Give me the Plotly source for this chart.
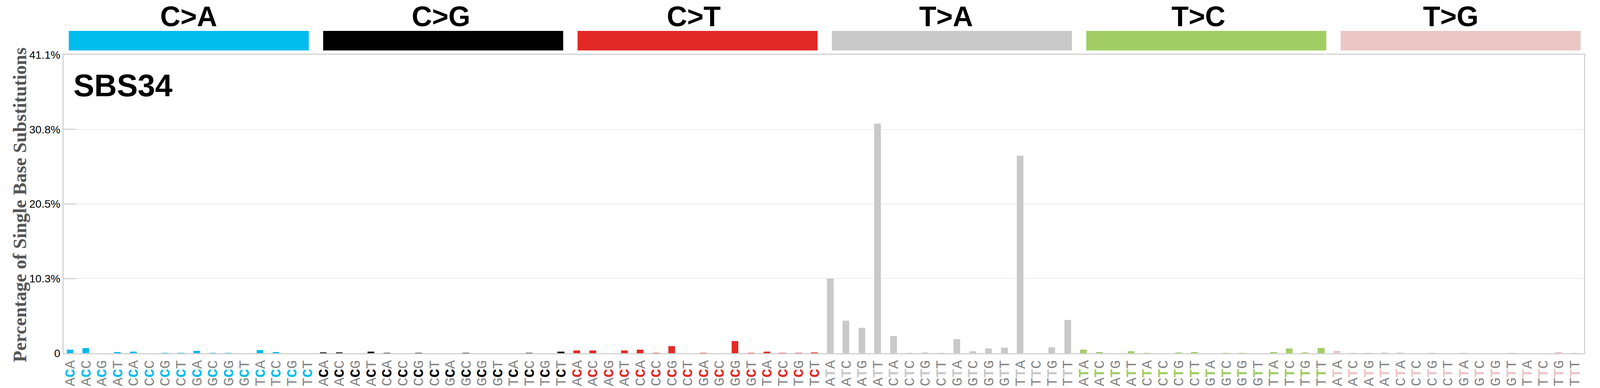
import plotly.graph_objects as go

# SBS34 - 96 channel profile (percent of single base substitutions)
mutations = ["C>A", "C>G", "C>T", "T>A", "T>C", "T>G"]
colors = ["#03BCEE", "#010101", "#E32926", "#CAC9C9", "#A1CE63", "#EBC6C4"]
bases = ["A", "C", "G", "T"]

ca = [0.47, 0.68, 0, 0.14, 0.20, 0, 0.04, 0.04, 0.30, 0.05, 0.05, 0, 0.41, 0.14, 0, 0]
cg = [0.09, 0.09, 0, 0.20, 0.04, 0, 0.04, 0, 0, 0.04, 0, 0, 0, 0.04, 0, 0.20]
ct = [0.36, 0.36, 0, 0.36, 0.47, 0.05, 0.95, 0, 0.05, 0, 1.65, 0.05, 0.20, 0.05, 0.05, 0.11]
ta = [10.3, 4.45, 3.49, 31.6, 2.35, 0.04, 0.11, 0.04, 1.93, 0.26, 0.64, 0.75, 27.2, 0, 0.79, 4.6]
tc = [0.47, 0.14, 0, 0.25, 0.04, 0, 0.09, 0.14, 0, 0.04, 0.04, 0, 0.14, 0.63, 0.09, 0.68]
tg = [0.30, 0.04, 0.04, 0.09, 0.09, 0, 0.04, 0, 0.04, 0, 0, 0.04, 0, 0, 0.14, 0.04]
values = [ca, cg, ct, ta, tc, tg]

ymax = 41.1
ytick_vals = [0, 10.275, 20.55, 30.825, 41.1]
ytick_text = ["0", "10.3%", "20.5%", "30.8%", "41.1%"]
signature = "SBS34"

# layout worked out on a 4393 x 992 canvas, the browser shows 4096 px wide
W0, H = 4393, 992
W = 4096
sx = W / W0
L0, R0, T, B = 175, 44, 140, 89
pw = W0 - L0 - R0
ph = H - T - B

x, y, bar_colors, labels = [], [], [], []
for m, (mut, col) in enumerate(zip(mutations, colors)):
    ref = mut[0]
    k = 0
    for b5 in bases:
        for b3 in bases:
            x.append(m * 16 + k)
            y.append(values[m][k])
            bar_colors.append(col)
            labels.append(f"{b5}<span style='color:{col}'><b>{ref}</b></span>{b3}")
            k += 1

fig = go.Figure(go.Bar(x=x, y=y, marker=dict(color=bar_colors, line=dict(width=0)),
                       width=0.42, showlegend=False))

shapes, annotations = [], []
for m, (mut, col) in enumerate(zip(mutations, colors)):
    x0 = (189 + 698.4 * m - L0) / pw
    shapes.append(dict(type="rect", xref="paper", yref="paper",
                       x0=x0, x1=x0 + 659 / pw,
                       y0=(H - B - 129) / ph, y1=(H - B - 79) / ph,
                       fillcolor=col, line=dict(width=0)))
    annotations.append(dict(text=f"<b>{mut}</b>", xref="paper", yref="paper",
                            x=(518.6 + 692.9 * m - L0) / pw, y=(H - B - 42) / ph,
                            xanchor="center", yanchor="middle", showarrow=False,
                            font=dict(family="Liberation Sans", size=72, color="black")))

annotations.append(dict(text=f"<b>{signature}</b>", xref="paper", yref="paper",
                        x=(200 - L0) / pw, y=(H - B - 218) / ph,
                        xanchor="left", yanchor="middle", showarrow=False,
                        font=dict(family="Liberation Sans", size=80, color="black")))
annotations.append(dict(text="<b>Percentage of Single Base Substitutions</b>",
                        xref="paper", yref="paper", x=(55 - L0) / pw, y=0.497,
                        xanchor="center", yanchor="middle", textangle=-90, showarrow=False,
                        font=dict(family="Liberation Serif", size=48, color="#555555")))

fig.update_layout(
    width=W, height=H,
    margin=dict(l=L0 * sx, r=R0 * sx, t=T, b=B, autoexpand=False),
    plot_bgcolor="white", paper_bgcolor="white",
    shapes=shapes, annotations=annotations,
    bargap=0,
)
fig.update_xaxes(
    range=[-0.4, 95.6], tickmode="array", tickvals=x, ticktext=labels,
    tickangle=-90, automargin=False,
    tickfont=dict(family="Liberation Mono", size=37, color="#858585"),
    showgrid=False, zeroline=False, ticks="",
    showline=True, linecolor="#d3d3d3", linewidth=3, mirror=True,
)
fig.update_yaxes(
    range=[0, ymax], tickmode="array", tickvals=ytick_vals, ticktext=ytick_text,
    automargin=False,
    tickfont=dict(family="Liberation Sans", size=28, color="black"),
    ticks="inside", ticklen=33, tickwidth=3, tickcolor="#d3d3d3",
    showgrid=True, gridcolor="#ececec", gridwidth=1.5, zeroline=False,
    showline=True, linecolor="#d3d3d3", linewidth=3, mirror=True,
)

# fit the figure to the window if it is not 4096 x 992
fit_window = """
document.body.style.margin = '0px';
document.body.style.overflow = 'hidden';
var gd = document.getElementById('{plot_id}');
var w = window.innerWidth, h = window.innerHeight;
if (w > 0 && h > 0 && (w !== 4096 || h !== 992)) {
  var kx = w / 4393, ky = h / 992;
  Plotly.relayout(gd, {width: w, height: h, 'margin.l': 175 * kx, 'margin.r': 44 * kx,
                       'margin.t': 140 * ky, 'margin.b': 89 * ky});
}
"""
fig.write_html("out.html", post_script=fit_window, config={"displayModeBar": False})
